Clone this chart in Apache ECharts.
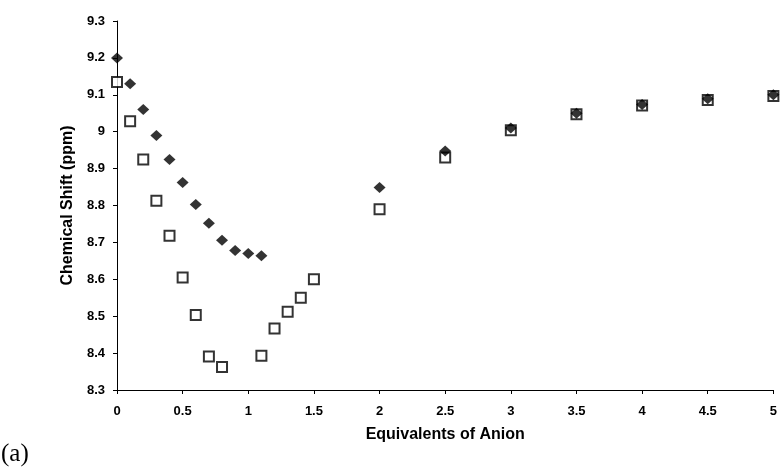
<!DOCTYPE html>
<html>
<head>
<meta charset="utf-8">
<script src="https://cdn.jsdelivr.net/npm/echarts@6/dist/echarts.min.js"></script>
<style>
  html, body { margin: 0; padding: 0; background: #fff; }
</style>
</head>
<body>
<div id="myChart" style="width: 780px; height: 469px"></div>
<script>
// equivalents of anion (x) for each series
const xDiamond = [0, 0.1, 0.2, 0.3, 0.4, 0.5, 0.6, 0.7, 0.8, 0.9, 1.0, 1.1, 2.0, 2.5, 3.0, 3.5, 4.0, 4.5, 5.0];
const yDiamond = [9.20, 9.13, 9.06, 8.99, 8.925, 8.862, 8.803, 8.752, 8.706, 8.678, 8.670, 8.664, 8.849, 8.948, 9.010, 9.050, 9.074, 9.089, 9.100];

const xSquare = [0, 0.1, 0.2, 0.3, 0.4, 0.5, 0.6, 0.7, 0.8, 1.1, 1.2, 1.3, 1.4, 1.5, 2.0, 2.5, 3.0, 3.5, 4.0, 4.5, 5.0];
const ySquare = [9.135, 9.028, 8.925, 8.813, 8.718, 8.605, 8.503, 8.391, 8.362, 8.393, 8.467, 8.512, 8.550, 8.600, 8.790, 8.930, 9.004, 9.047, 9.071, 9.086, 9.097];

const xTitle = "Equivalents of Anion";
const yTitle = "Chemical Shift (ppm)";
const panelLabel = "(a)";

const pairs = (xs, ys) => xs.map((x, i) => [x, ys[i]]);
const font = "'Liberation Sans', Arial, sans-serif";

let myChart = echarts.init(document.getElementById("myChart"));
myChart.setOption({
  animation: false,
  grid: { left: 117, right: 3, top: 21, bottom: 79 },
  xAxis: {
    type: "value",
    min: 0,
    max: 5,
    interval: 0.5,
    name: xTitle,
    nameLocation: "middle",
    nameGap: 37,
    nameTextStyle: { fontFamily: font, fontWeight: "bold", fontSize: 16, color: "#000" },
    axisLine: { lineStyle: { color: "#000", width: 1 } },
    axisTick: { show: true, length: 4, lineStyle: { color: "#000" } },
    axisLabel: { fontFamily: font, fontWeight: "bold", fontSize: 13, color: "#000", margin: 15 },
    splitLine: { show: false }
  },
  yAxis: {
    type: "value",
    min: 8.3,
    max: 9.3,
    interval: 0.1,
    name: yTitle,
    nameLocation: "middle",
    nameGap: 38,
    nameTextStyle: { fontFamily: font, fontWeight: "bold", fontSize: 16, color: "#000" },
    axisLine: { show: true, lineStyle: { color: "#000", width: 1 } },
    axisTick: { show: true, length: 4, lineStyle: { color: "#000" } },
    axisLabel: {
      fontFamily: font, fontWeight: "bold", fontSize: 13, color: "#000", margin: 12,
      formatter: (v) => String(Math.round(v * 10) / 10)
    },
    splitLine: { show: false }
  },
  series: [
    {
      name: "square",
      type: "scatter",
      symbol: "rect",
      symbolSize: 10,
      data: pairs(xSquare, ySquare),
      itemStyle: { color: "#fff", borderColor: "#000", borderWidth: 2 },
      z: 2
    },
    {
      name: "diamond",
      type: "scatter",
      symbol: "diamond",
      symbolSize: [12, 11],
      data: pairs(xDiamond, yDiamond),
      itemStyle: { color: "#000" },
      z: 3
    }
  ],
  graphic: [
    {
      type: "text",
      left: 1,
      top: 442,
      style: { text: panelLabel, font: "25px 'Liberation Serif'", fill: "#000" }
    }
  ]
});
</script>
</body>
</html>
